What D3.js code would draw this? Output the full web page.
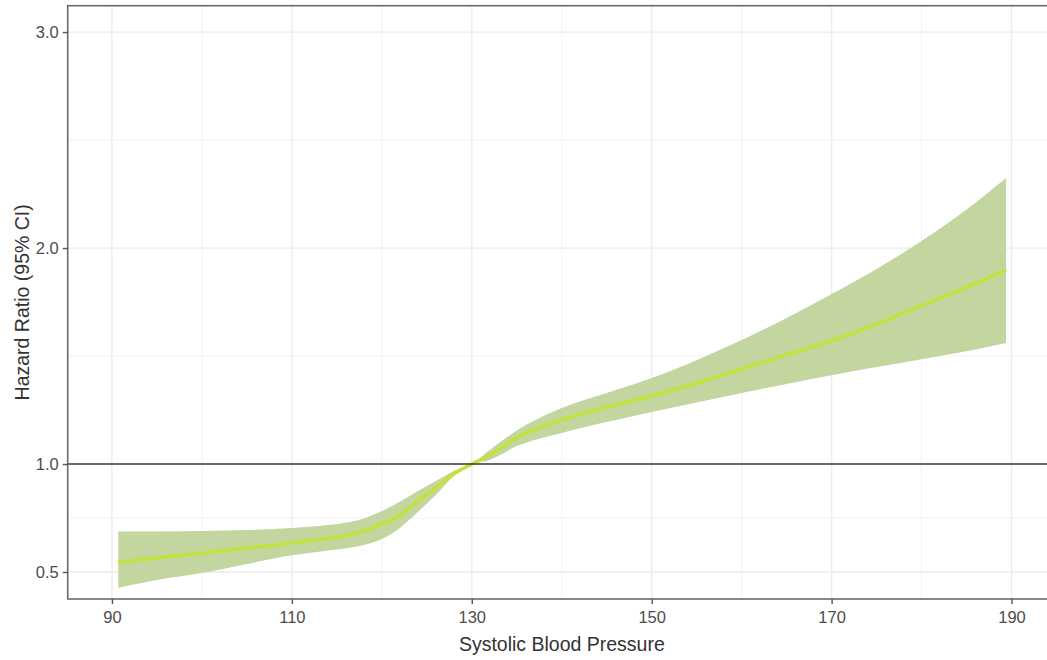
<!DOCTYPE html>
<html>
<head>
<meta charset="utf-8">
<script src="https://cdn.jsdelivr.net/npm/d3@7"></script>
<style>
  body { margin: 0; background: #fff; }
  text { font-family: "Liberation Sans", Arial, sans-serif; }
</style>
</head>
<body>
<div id="chart"></div>
<script>
// systolic blood pressure values along the spline
const sbp   = [90.7, 95, 100, 105, 110, 113, 115, 118, 120, 122, 124, 126, 128, 130, 132, 135, 140, 145, 150, 155, 160, 165, 170, 175, 180, 185, 189.4];
// hazard ratio estimate
const hr    = [0.546, 0.565, 0.588, 0.611, 0.634, 0.651, 0.662, 0.69, 0.722, 0.764, 0.829, 0.889, 0.954, 1.0, 1.042, 1.122, 1.204, 1.264, 1.315, 1.375, 1.44, 1.505, 1.572, 1.648, 1.734, 1.819, 1.898];
// 95% CI lower / upper
const lower = [0.427, 0.463, 0.495, 0.537, 0.577, 0.594, 0.604, 0.625, 0.653, 0.704, 0.778, 0.856, 0.944, 1.0, 1.019, 1.083, 1.144, 1.194, 1.241, 1.285, 1.329, 1.371, 1.411, 1.449, 1.485, 1.522, 1.56];
const upper = [0.687, 0.688, 0.69, 0.694, 0.704, 0.713, 0.722, 0.748, 0.782, 0.825, 0.875, 0.921, 0.968, 1.0, 1.065, 1.155, 1.259, 1.329, 1.398, 1.481, 1.574, 1.676, 1.787, 1.903, 2.032, 2.178, 2.324];

const xTicks = [90, 110, 130, 150, 170, 190];
const xMinor = [100, 120, 140, 160, 180];
const yTicks = [0.5, 1.0, 2.0, 3.0];
const yMinor = [0.75, 1.5, 2.5];

const W = 1047, H = 660;
const pL = 67.7, pT = 5.7, pB = 599, pR = 1052;

const svg = d3.select("#chart").append("svg")
  .attr("width", W).attr("height", H);

const x = d3.scaleLinear().domain([85.08, 194.5]).range([pL, pR]);
const y = d3.scaleLinear().domain([0.375, 3.122]).range([pB, pT]);

const data = sbp.map((s, i) => ({ s: s, hr: hr[i], lo: lower[i], hi: upper[i] }));

// grid
const grid = svg.append("g");
grid.selectAll(".ymin").data(yMinor).enter().append("line")
  .attr("x1", pL).attr("x2", pR)
  .attr("y1", d => y(d)).attr("y2", d => y(d))
  .style("stroke", "#f2f2f2").style("stroke-width", 1);
grid.selectAll(".xmin").data(xMinor).enter().append("line")
  .attr("y1", pT).attr("y2", pB)
  .attr("x1", d => x(d)).attr("x2", d => x(d))
  .style("stroke", "#f2f2f2").style("stroke-width", 1);
grid.selectAll(".ymaj").data(yTicks).enter().append("line")
  .attr("x1", pL).attr("x2", pR)
  .attr("y1", d => y(d)).attr("y2", d => y(d))
  .style("stroke", "#ebebeb").style("stroke-width", 1.3);
grid.selectAll(".xmaj").data(xTicks).enter().append("line")
  .attr("y1", pT).attr("y2", pB)
  .attr("x1", d => x(d)).attr("x2", d => x(d))
  .style("stroke", "#ebebeb").style("stroke-width", 1.3);

// CI ribbon
const area = d3.area()
  .x(d => x(d.s)).y0(d => y(d.lo)).y1(d => y(d.hi))
  .curve(d3.curveMonotoneX);
svg.append("path").datum(data)
  .attr("d", area)
  .style("fill", "#c3d6a0");

// estimate line
const line = d3.line().x(d => x(d.s)).y(d => y(d.hr)).curve(d3.curveMonotoneX);
svg.append("path").datum(data)
  .attr("d", line)
  .style("fill", "none")
  .style("stroke", "#c2e33c")
  .style("stroke-width", 3.5);

// reference line HR = 1
svg.append("line")
  .attr("x1", pL).attr("x2", pR)
  .attr("y1", y(1)).attr("y2", y(1))
  .style("stroke", "#3a3a3a").style("stroke-width", 1.6);

// panel border
svg.append("rect")
  .attr("x", pL).attr("y", pT)
  .attr("width", pR - pL).attr("height", pB - pT)
  .style("fill", "none").style("stroke", "#6b6b6b").style("stroke-width", 1.6);

// axes
const xAxis = svg.append("g")
  .attr("transform", `translate(0,${pB})`)
  .call(d3.axisBottom(x).tickValues(xTicks).tickSize(5).tickPadding(7).tickFormat(d3.format("d")));
const yAxis = svg.append("g")
  .attr("transform", `translate(${pL},0)`)
  .call(d3.axisLeft(y).tickValues(yTicks).tickSize(5).tickPadding(4).tickFormat(d3.format(".1f")));
[xAxis, yAxis].forEach(g => {
  g.select(".domain").remove();
  g.selectAll(".tick line").style("stroke", "#555").style("stroke-width", 1.4);
  g.selectAll(".tick text").style("fill", "#4d4d4d").style("font-size", "16.5px")
    .style("font-family", "'Liberation Sans', Arial, sans-serif");
});

// titles
svg.append("text")
  .attr("x", (pL + pR) / 2 + 2).attr("y", 651)
  .attr("text-anchor", "middle")
  .style("font-size", "19.5px").style("fill", "#333")
  .text("Systolic Blood Pressure");
svg.append("text")
  .attr("transform", `translate(29,${(pT + pB) / 2}) rotate(-90)`)
  .attr("text-anchor", "middle")
  .style("font-size", "19.5px").style("fill", "#333")
  .text("Hazard Ratio (95% CI)");
</script>
</body>
</html>
